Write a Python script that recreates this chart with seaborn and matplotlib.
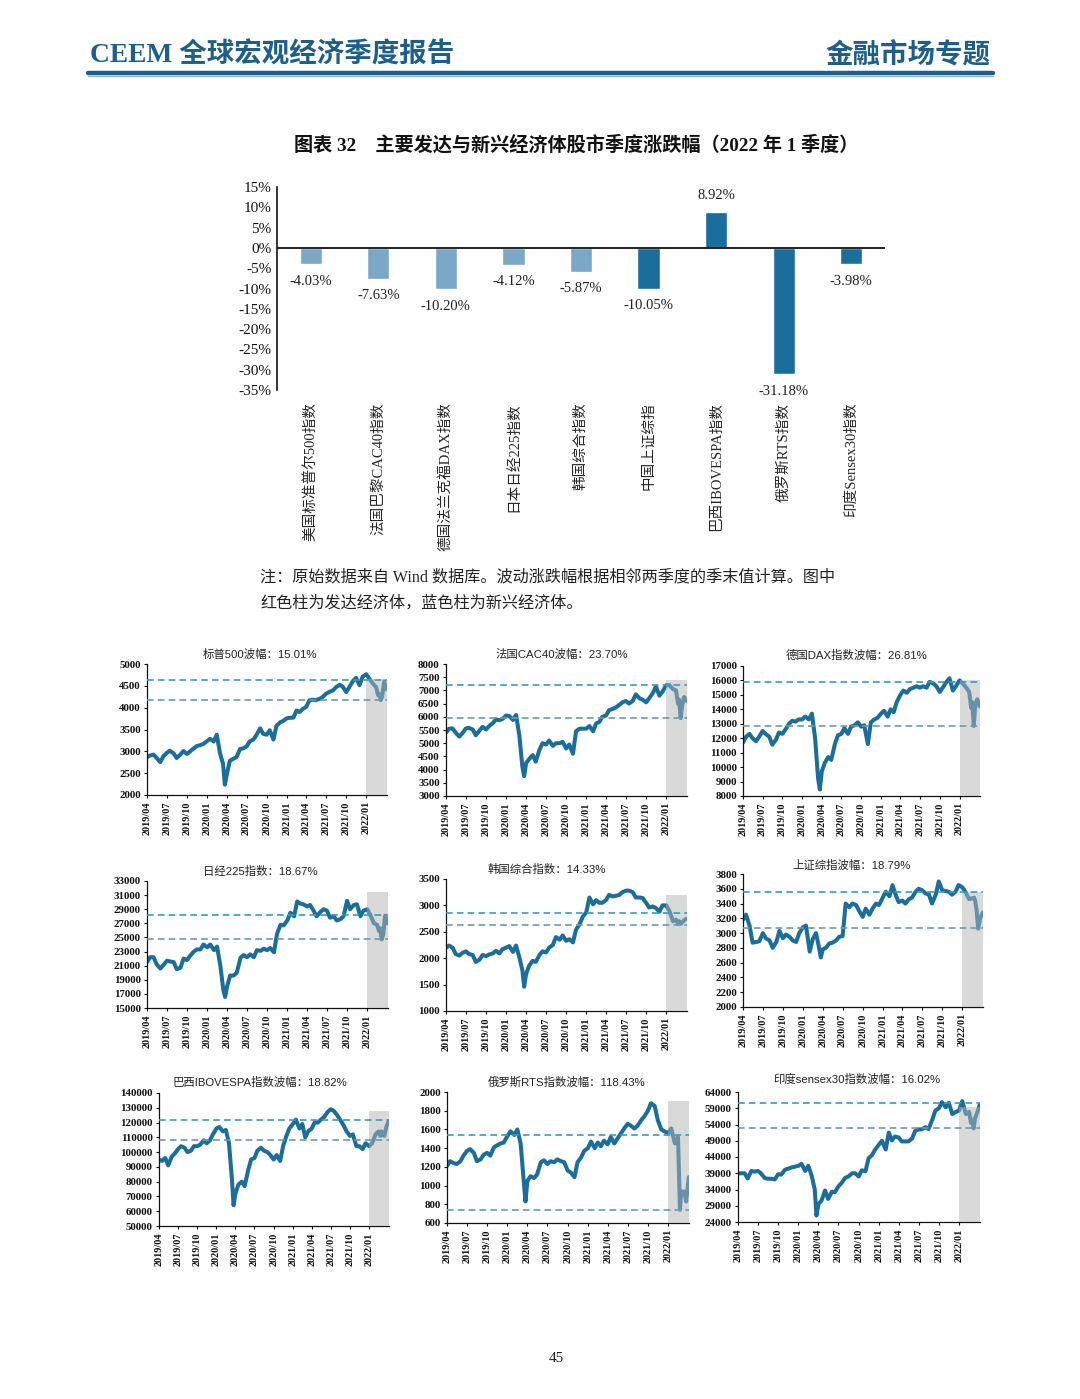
import numpy as np
import pandas as pd
import matplotlib
matplotlib.use('Agg')
import matplotlib.pyplot as plt
import matplotlib.dates as mdates
import seaborn as sns

sns.set_theme(style='white')
plt.rcParams['font.family'] = ['Liberation Serif', 'Noto Sans CJK SC', 'DejaVu Sans']
plt.rcParams['axes.unicode_minus'] = False

# ---- bar chart data ----
bar_names = ['美国标准普尔500指数', '法国巴黎CAC40指数', '德国法兰克福DAX指数', '日本日经225指数',
             '韩国综合指数', '中国上证综指', '巴西IBOVESPA指数', '俄罗斯RTS指数', '印度Sensex30指数']
bar_values = [-4.03, -7.63, -10.20, -4.12, -5.87, -10.05, 8.92, -31.18, -3.98]
bar_group = ['dev', 'dev', 'dev', 'dev', 'dev', 'emg', 'emg', 'emg', 'emg']
bar_ticks = [15, 10, 5, 0, -5, -10, -15, -20, -25, -30, -35]

# ---- line chart data (semi-monthly readings) ----
dates = list(pd.date_range('2019-04-01', '2021-12-31', freq='SMS'))
dates.append(pd.Timestamp('2020-03-23'))
dates = sorted(dates) + [pd.Timestamp(d) for d in
                         ['2022-01-01', '2022-01-15', '2022-02-01', '2022-02-15', '2022-02-24',
                          '2022-03-01', '2022-03-08', '2022-03-15', '2022-03-24', '2022-04-05']]

spx = [2867, 2905, 2924, 2850, 2752, 2887, 2964, 3014, 2953, 2847, 2926, 3007, 2940, 2995, 3066, 3120, 3141, 3168,
       3231, 3289, 3225, 3380, 2954, 2711, 2237, 2470, 2783, 2830, 2863, 3055, 3066, 3115, 3226, 3271, 3372, 3526, 3401, 3380, 3483, 3270, 3585, 3662, 3694,
       3756, 3768, 3773, 3934, 3901, 3968, 4020, 4170, 4181, 4173, 4202, 4246, 4320, 4360, 4395, 4468, 4524, 4480, 4357, 4471, 4613, 4682, 4513, 4709,
       4766, 4662, 4546, 4471, 4288, 4306, 4171, 4262, 4600, 4420]
cac = [5400, 5550, 5560, 5400, 5250, 5380, 5560, 5580, 5520, 5300, 5480, 5620, 5520, 5650, 5760, 5900, 5870, 5920,
       6050, 6030, 5880, 6070, 5300, 4100, 3750, 4250, 4400, 4550, 4300, 4750, 5000, 4950, 5100, 4900, 5000, 5000, 5050, 4800, 4950, 4600, 5450, 5550, 5550,
       5550, 5650, 5450, 5750, 5800, 6000, 6050, 6250, 6300, 6350, 6450, 6550, 6600, 6500, 6600, 6850, 6700, 6650, 6550, 6700, 6900, 7150, 6800, 6950,
       7200, 7200, 7050, 7000, 6500, 6650, 5950, 6450, 6750, 6600]
dax = [11700, 12100, 12300, 12000, 11800, 12100, 12500, 12300, 12100, 11550, 11900, 12400, 12300, 12600, 13000, 13200, 13150, 13300,
       13300, 13500, 13300, 13700, 12000, 9200, 8450, 9700, 10300, 10700, 10500, 11600, 12200, 12300, 12700, 12300, 12800, 12900, 13100, 12800, 12900, 11600, 13100, 13300, 13400,
       13700, 13900, 13500, 14000, 13800, 14500, 15000, 15300, 15150, 15400, 15500, 15600, 15500, 15600, 15500, 15900, 15800, 15600, 15200, 15500, 15900, 16150, 15300, 15600,
       16000, 15800, 15500, 15200, 14100, 14500, 12850, 14300, 14700, 14200]
nikkei = [21500, 22200, 22200, 21200, 20600, 21100, 21700, 21600, 21500, 20500, 20700, 22000, 21800, 22400, 23000, 23300, 23300, 24000,
          23600, 24000, 23200, 23700, 21000, 17500, 16550, 18100, 19600, 19600, 20000, 22100, 22500, 22200, 22600, 22200, 23200, 23100, 23400, 23200, 23500, 22900, 25500, 26800, 26700,
          27400, 28500, 28000, 30100, 29800, 29700, 29400, 29600, 28800, 28000, 28600, 29000, 28800, 27800, 28000, 27400, 27600, 28000, 30200, 29000, 29600, 29700, 28000, 28800,
          29000, 28200, 27000, 26800, 25900, 26300, 24700, 25400, 28100, 27000]
kospi = [2200, 2240, 2200, 2080, 2050, 2100, 2130, 2080, 2060, 1930, 1970, 2060, 2040, 2070, 2090, 2140, 2090, 2170,
         2200, 2230, 2120, 2240, 2020, 1770, 1460, 1700, 1860, 1950, 1930, 2060, 2130, 2110, 2200, 2250, 2400, 2350, 2430, 2330, 2360, 2300, 2540, 2640, 2780,
         2870, 3150, 3020, 3100, 3050, 3050, 3100, 3200, 3170, 3180, 3200, 3250, 3280, 3280, 3250, 3150, 3150, 3140, 3050, 2960, 2980, 2950, 2880, 3000,
         3000, 2900, 2700, 2730, 2650, 2700, 2650, 2680, 2720, 2750]
shcomp = [3180, 3250, 3100, 2870, 2880, 2890, 3000, 2930, 2900, 2800, 2880, 3030, 2930, 2980, 2950, 2900, 2880, 3000,
          3080, 3100, 2750, 2920, 3000, 2800, 2670, 2780, 2800, 2860, 2870, 2900, 2950, 2960, 3400, 3350, 3400, 3380, 3300, 3220, 3330, 3250, 3330, 3400, 3380,
          3480, 3560, 3500, 3650, 3520, 3420, 3440, 3400, 3460, 3480, 3560, 3600, 3580, 3540, 3520, 3400, 3520, 3700, 3580, 3570, 3560, 3520, 3560, 3650,
          3620, 3560, 3460, 3470, 3480, 3440, 3300, 3060, 3200, 3280]
ibov = [95000, 94000, 96000, 91000, 97000, 99000, 102000, 104000, 103000, 100000, 101000, 104000, 104000, 105000, 108000, 106000, 108000, 112000,
        116000, 117000, 114000, 115000, 106000, 82000, 64000, 72000, 78000, 80000, 77000, 88000, 95000, 96000, 101000, 103000, 101000, 100000, 98000, 95000, 98000, 94000, 104000, 111000, 116000,
        119000, 122000, 116000, 119000, 110000, 114000, 116000, 120000, 120000, 122000, 124000, 127000, 129000, 128000, 125000, 122000, 118000, 114000, 111000, 112000, 104000, 104000, 102000, 106000,
        104000, 106000, 112000, 114000, 111000, 114000, 112000, 111000, 117000, 121000]
rts = [1210, 1260, 1240, 1230, 1260, 1320, 1370, 1390, 1350, 1260, 1280, 1330, 1350, 1320, 1410, 1430, 1450, 1460,
       1530, 1580, 1540, 1600, 1450, 1050, 830, 1050, 1100, 1080, 1120, 1250, 1270, 1230, 1260, 1250, 1280, 1260, 1250, 1160, 1140, 1090, 1250, 1300, 1370,
       1400, 1470, 1400, 1460, 1420, 1480, 1440, 1520, 1450, 1500, 1560, 1610, 1660, 1640, 1610, 1640, 1700, 1740, 1800, 1880, 1850, 1700, 1600, 1580,
       1560, 1610, 1450, 1520, 742, 936, 936, 936, 830, 1090]
sensex = [38900, 39000, 39000, 37400, 39700, 39500, 39700, 38900, 37500, 37300, 37300, 37100, 38700, 38600, 40100, 40400, 40800, 41000,
          41300, 41900, 39700, 41300, 38300, 34100, 25980, 29500, 30600, 33700, 31100, 33300, 33200, 35000, 36000, 37600, 38000, 39000, 39000, 38000, 39900, 39600, 43600, 44600, 46300,
          47800, 49000, 46300, 51500, 49100, 50300, 50000, 48800, 48800, 48800, 49700, 52000, 52500, 52500, 53200, 52600, 55500, 58300, 59000, 60900, 59300, 60700, 57200, 57800,
          58300, 61200, 57200, 57900, 54500, 55500, 52800, 56000, 57600, 60100]

line_titles = ['标普500波幅：15.01%', '法国CAC40波幅：23.70%', '德国DAX指数波幅：26.81%',
               '日经225指数：18.67%', '韩国综合指数：14.33%', '上证综指波幅：18.79%',
               '巴西IBOVESPA指数波幅：18.82%', '俄罗斯RTS指数波幅：118.43%', '印度sensex30指数波幅：16.02%']
line_series = [spx, cac, dax, nikkei, kospi, shcomp, ibov, rts, sensex]
y_ranges = [(2000, 5000, 500), (3000, 8000, 500), (8000, 17000, 1000),
            (15000, 33000, 2000), (1000, 3500, 500), (2000, 3800, 200),
            (50000, 140000, 10000), (600, 2000, 200), (24000, 64000, 5000)]
q_high = [4630, 7200, 15880, 28250, 2860, 3560, 121600, 1545, 60600]
q_low = [4170, 5960, 12830, 24720, 2620, 3065, 108000, 742, 52900]
shade_top = [4650, 7400, 16000, 31500, 3200, 3560, 127500, 1900, 59500]

W, H = 1080, 1399
BLUE = '#1b6e9c'
LIGHT = '#7aa8c6'
HEAD = '#1d5f8a'


def box(x0, x1, ytop, ybot):
    return [x0 / W, 1 - ybot / H, (x1 - x0) / W, (ybot - ytop) / H]


fig = plt.figure(figsize=(W / 100, H / 100), dpi=100)
fig.patch.set_facecolor('white')

# header
fig.text(90 / W, 1 - 55 / H, 'CEEM 全球宏观经济季度报告', fontsize=19.8, fontweight='bold',
         color=HEAD, va='center', ha='left')
fig.text(990 / W, 1 - 55 / H, '金融市场专题', fontsize=19.8, fontweight='bold',
         color=HEAD, va='center', ha='right')
fig.add_artist(plt.Line2D([88 / W, 993 / W], [1 - 72.5 / H] * 2, color=HEAD, lw=3.2))
fig.add_artist(plt.Line2D([88 / W, 993 / W], [1 - 76 / H] * 2, color='#8fb3c9', lw=1.0))

# bar chart title
fig.text(576 / W, 1 - 145 / H, '图表 32　主要发达与新兴经济体股市季度涨跌幅（2022 年 1 季度）',
         fontsize=13.8, fontweight='bold', ha='center', va='center', color='#111111')

axb = fig.add_axes(box(277, 885, 187, 390))
pal = {n: (LIGHT if g == 'dev' else BLUE) for n, g in zip(bar_names, bar_group)}
sns.barplot(x=bar_names, y=bar_values, hue=bar_names, palette=pal, legend=False,
            width=0.33, saturation=1, ax=axb)
axb.set_ylim(-35, 15)
axb.set_xlim(-0.5, 8.5)
axb.set_yticks(bar_ticks)
axb.set_yticklabels([f'{t}%' for t in bar_ticks], fontsize=11)
axb.axhline(0, color='#111111', lw=1.3)
for s in ['top', 'right', 'bottom']:
    axb.spines[s].set_visible(False)
axb.spines['left'].set_color('#111111')
axb.spines['left'].set_linewidth(1.2)
axb.tick_params(axis='y', direction='in', length=4, width=1, pad=4, colors='#111111')
axb.tick_params(axis='x', length=0, pad=9)
axb.set_xticks(range(len(bar_names)))
axb.set_xticklabels(bar_names, rotation=90, fontsize=10.5, va='top', ha='center')
for i, v in enumerate(bar_values):
    off = 4.0 if v > 0 else -4.2
    axb.text(i, v + off, f'{v:.2f}%', ha='center', va='center', fontsize=10.5, color='#222222')
axb.set_xlabel('')
axb.set_ylabel('')

# note
fig.text(260 / W, 1 - 577 / H, '注：原始数据来自 Wind 数据库。波动涨跌幅根据相邻两季度的季末值计算。图中',
         fontsize=11.6, ha='left', va='center', color='#222222')
fig.text(260 / W, 1 - 604 / H, '红色柱为发达经济体，蓝色柱为新兴经济体。',
         fontsize=11.6, ha='left', va='center', color='#222222')

# small line charts
boxes = [(147, 387, 664, 795), (446, 687, 664, 796), (743, 980, 666, 796),
         (147, 388, 881, 1008), (446, 687, 879, 1011), (743, 983, 874, 1007),
         (159, 389, 1093, 1226), (447, 689, 1092, 1223), (738, 980, 1092, 1222)]
title_pos = [(260, 654), (562, 654), (857, 655), (260, 871), (547, 869), (852, 865),
             (260, 1082), (567, 1082), (857, 1079)]
x0 = pd.Timestamp('2019-04-01')
x1 = pd.Timestamp('2022-04-06')
qticks = pd.date_range('2019-04-01', '2022-01-01', freq='QS')
shade_start = pd.Timestamp('2022-01-01')

for k in range(9):
    ax = fig.add_axes(box(*boxes[k]))
    lo, hi, st = y_ranges[k]
    sns.lineplot(x=dates, y=line_series[k], ax=ax, color=BLUE, linewidth=2.9, zorder=2)
    ax.fill_between([shade_start, x1], lo, shade_top[k], color='#b4b4b4', alpha=0.5,
                    lw=0, zorder=3)
    ax.axhline(q_high[k], color='#3a9cb8', lw=1.2, ls=(0, (4, 2.5)), zorder=4)
    ax.axhline(q_low[k], color='#6d9ba8', lw=1.2, ls=(0, (4, 2.5)), zorder=4)
    ax.set_xlim(x0, x1)
    ax.set_ylim(lo, hi)
    ax.set_yticks(np.arange(lo, hi + 1, st))
    ax.set_xticks(qticks)
    ax.xaxis.set_major_formatter(mdates.DateFormatter('%Y/%m'))
    for lab in ax.get_yticklabels():
        lab.set_fontweight('bold')
    ax.tick_params(axis='y', labelsize=7.8, length=2.5, width=0.8, pad=2, colors='#111111', left=True)
    ax.tick_params(axis='x', labelsize=7.3, length=2.5, width=0.8, pad=2, colors='#111111',
                   labelrotation=90, bottom=True)
    for lab in ax.get_xticklabels():
        lab.set_fontweight('bold')
    for s in ['top', 'right']:
        ax.spines[s].set_visible(False)
    for s in ['left', 'bottom']:
        ax.spines[s].set_color('#111111')
        ax.spines[s].set_linewidth(0.9)
    ax.set_xlabel('')
    ax.set_ylabel('')
    ax.set_facecolor('white')
    tx, ty = title_pos[k]
    fig.text(tx / W, 1 - ty / H, line_titles[k], fontsize=8.2,
             family=['Liberation Sans', 'Noto Sans CJK SC'], ha='center', va='center', color='#222222')

fig.text(556 / W, 1 - 1358 / H, '45', fontsize=11, ha='center', va='center', color='#222222')

fig.savefig('out.png', dpi=100, facecolor='white')
